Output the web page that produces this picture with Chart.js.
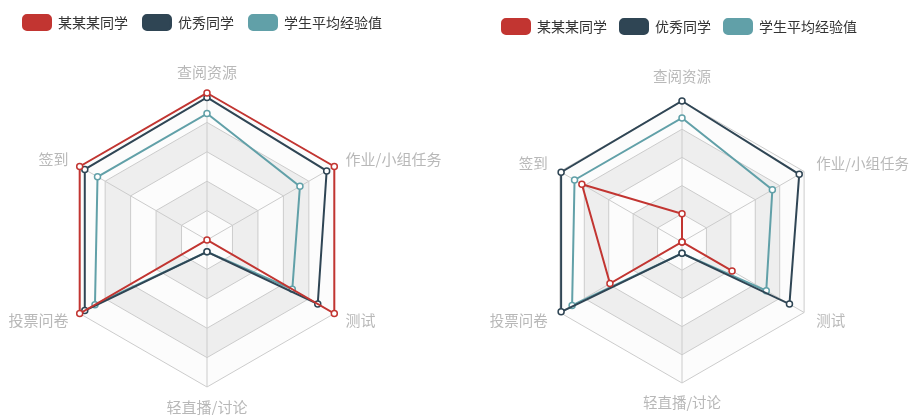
<!DOCTYPE html>
<html>
<head>
<meta charset="utf-8">
<script src="https://cdn.jsdelivr.net/npm/chart.js"></script>
<style>
    body { margin: 0; background: #ffffff; }
    .wrap { position: relative; width: 909px; height: 415px; overflow: hidden; }
    #leftBox { position: absolute; left: 0; top: 0; }
    #rightBox { position: absolute; left: 454px; top: 0; }
</style>
</head>
<body>
<div class="wrap">
    <div id="leftBox"><canvas id="leftChart" width="454" height="415"></canvas></div>
    <div id="rightBox"><canvas id="rightChart" width="455" height="415"></canvas></div>
</div>
<script>
// categories, clockwise from the top
const categories = ['查阅资源', '作业/小组任务', '测试', '轻直播/讨论', '投票问卷', '签到'];
const seriesNames = ['某某某同学', '优秀同学', '学生平均经验值'];
const seriesColors = ['#c23531', '#2f4554', '#61a0a8'];
const rTicks = [0, 20, 40, 60, 80, 100];

// left chart
const leftStudent = [100, 100, 100, 0, 100, 100];
const leftExcellent = [97, 94, 87, 8, 96, 96];
const leftAverage = [86, 73, 67, 8, 88, 86];

// right chart
const rightStudent = [20, 0, 41, 0, 59, 82];
const rightExcellent = [100, 96, 88, 8, 99, 99];
const rightAverage = [88, 74, 69, 8, 90, 88];

// alternating split areas like echarts radar
const splitAreaPlugin = {
    id: 'splitArea',
    beforeDraw(chart) {
        const scale = chart.scales.r;
        const ctx = chart.ctx;
        const n = categories.length;
        ctx.save();
        for (let k = rTicks.length - 1; k > 0; k--) {
            ctx.beginPath();
            for (let i = 0; i < n; i++) {
                const p = scale.getPointPositionForValue(i, rTicks[k]);
                if (i === 0) ctx.moveTo(p.x, p.y); else ctx.lineTo(p.x, p.y);
            }
            ctx.closePath();
            ctx.fillStyle = (k % 2 === 1) ? '#fcfcfc' : '#eeeeee';
            ctx.fill();
        }
        ctx.restore();
    }
};

// pin the radar centre / radius, then rebuild the point labels around it
function placeRadar(cx, cy, radius) {
    return function (scale) {
        const box = { left: scale.left, right: scale.right, top: scale.top, bottom: scale.bottom };
        scale.xCenter = cx;
        scale.yCenter = cy;
        scale.drawingArea = radius;
        Object.assign(scale, { left: -9999, right: 9999, top: -9999, bottom: 9999 });
        scale.fit();
        Object.assign(scale, box);
    };
}

function makeDataset(i, values) {
    return {
        label: seriesNames[i],
        data: values,
        borderColor: seriesColors[i],
        backgroundColor: seriesColors[i],
        borderWidth: 2,
        fill: false,
        pointRadius: 3,
        pointBorderWidth: 1.5,
        pointBackgroundColor: '#ffffff',
        pointBorderColor: seriesColors[i]
    };
}

function createRadar(canvas, values, geo) {
    return new Chart(canvas, {
        type: 'radar',
        data: {
            labels: categories,
            datasets: values.map((v, i) => makeDataset(i, v))
        },
        options: {
            responsive: false,
            animation: false,
            layout: { padding: { top: geo.padTop, left: geo.padLeft } },
            plugins: {
                tooltip: { enabled: false },
                legend: {
                    position: 'top',
                    align: 'start',
                    labels: {
                        boxWidth: 28,
                        boxHeight: 15,
                        useBorderRadius: true,
                        borderRadius: 4,
                        padding: geo.legendGap,
                        color: '#333',
                        font: { family: '"Noto Sans CJK SC", sans-serif', size: 14 }
                    }
                }
            },
            scales: {
                r: {
                    min: 0,
                    max: 100,
                    ticks: { display: false, stepSize: 20 },
                    grid: { color: '#cccccc', lineWidth: 1 },
                    angleLines: { color: '#cccccc', lineWidth: 1 },
                    pointLabels: {
                        color: '#b8b8b8',
                        font: { family: '"Noto Sans CJK SC", sans-serif', size: geo.labelSize, lineHeight: 0.1 },
                        padding: ctx => (ctx.index === 0 ? geo.padTopLabel : ctx.index === 3 ? geo.padBottomLabel : geo.padSide)
                    },
                    afterFit: placeRadar(geo.cx, geo.cy, geo.r)
                }
            }
        },
        plugins: [splitAreaPlugin]
    });
}

createRadar(document.getElementById('leftChart'),
    [leftStudent, leftExcellent, leftAverage],
    { cx: 207, cy: 240, r: 147, padTop: 0, padLeft: 8, legendGap: 15, labelSize: 15,
      padTopLabel: 20, padBottomLabel: 20, padSide: 13 });

createRadar(document.getElementById('rightChart'),
    [rightStudent, rightExcellent, rightAverage],
    { cx: 228, cy: 242, r: 141, padTop: 6, padLeft: 35, legendGap: 13, labelSize: 14.5,
      padTopLabel: 24, padBottomLabel: 19, padSide: 14 });
</script>
</body>
</html>
